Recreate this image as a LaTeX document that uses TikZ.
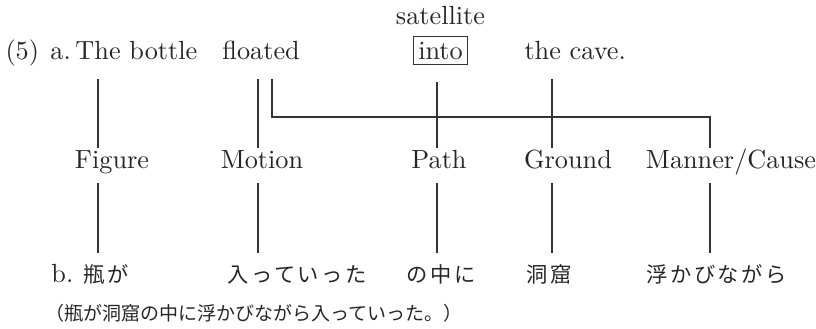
\documentclass[tikz,border=0pt]{standalone}
\usepackage{fontspec}
\newfontfamily\jp{Noto Sans CJK JP}
\newfontfamily\jpw[LetterSpace=12]{Noto Sans CJK JP}
\begin{document}
\begin{tikzpicture}[x=0.4pt,y=-0.4pt,
  en/.style={inner sep=0pt,font=\fontsize{10.5}{12}\selectfont,text=black!85},
  lab/.style={en,anchor=base},
  word/.style={en,anchor=base west},
  jpb/.style={inner sep=0pt,anchor=base west,font=\fontsize{8.5}{10}\selectfont\jpw,text=black!85},
  jpl/.style={inner sep=0pt,anchor=base west,font=\fontsize{7.6}{9}\selectfont\jp,text=black!85},
  ln/.style={line width=0.5pt,draw=black!80}]
\useasboundingbox (0,0) rectangle (816,328);
% row a
\node[lab] (sat) at (440.5,24) {satellite};
\node[word] (n5) at (5,59) {(5)};
\node[word] (aa) at (50,59) {a.};
\node[word] (bottle) at (75,59) {The bottle};
\node[word] (floated) at (222,59) {floated};
\node[en,anchor=base,draw=black!80,line width=0.5pt,inner sep=2pt] (into) at (440.5,59) {into};
\node[word] (cave) at (524,59) {the cave.};
% labels
\node[lab] (fig) at (112,168) {Figure};
\node[lab] (mot) at (262,168) {Motion};
\node[lab] (path) at (439,168) {Path};
\node[lab] (gnd) at (568,168) {Ground};
\node[lab] (man) at (731,168) {Manner/Cause};
% row b
\node[word] (bb) at (51,282) {b.};
\node[jpb] (bin) at (83,282) {瓶が};
\node[jpb] (hai) at (227,282) {入っていった};
\node[jpb] (naka) at (406,282) {の中に};
\node[jpb] (dou) at (526,282) {洞窟};
\node[jpb] (uka) at (646,282) {浮かびながら};
\node[jpl] (par) at (45,320) {（瓶が洞窟の中に浮かびながら入っていった。）};
% coordinates
\coordinate (f1) at (98,79);   \coordinate (f2) at (98,148);
\coordinate (f3) at (98,183);  \coordinate (f4) at (98,253);
\coordinate (m1) at (258,79);  \coordinate (m2) at (258,148);
\coordinate (m3) at (258,183); \coordinate (m4) at (258,253);
\coordinate (p1) at (437,82);  \coordinate (p2) at (437,148);
\coordinate (p3) at (437,183); \coordinate (p4) at (437,253);
\coordinate (g1) at (552,79);  \coordinate (g2) at (552,148);
\coordinate (g3) at (552,183); \coordinate (g4) at (552,253);
\coordinate (c1) at (272,79);  \coordinate (c2) at (272,117);
\coordinate (c3) at (710,117); \coordinate (c4) at (710,148);
\coordinate (c5) at (710,183); \coordinate (c6) at (710,253);
\draw[ln] (f1) -- (f2); \draw[ln] (f3) -- (f4);
\draw[ln] (m1) -- (m2); \draw[ln] (m3) -- (m4);
\draw[ln] (p1) -- (p2); \draw[ln] (p3) -- (p4);
\draw[ln] (g1) -- (g2); \draw[ln] (g3) -- (g4);
\draw[ln] (c1) -- (c2) -- (c3) -- (c4); \draw[ln] (c5) -- (c6);
\end{tikzpicture}
\end{document}
